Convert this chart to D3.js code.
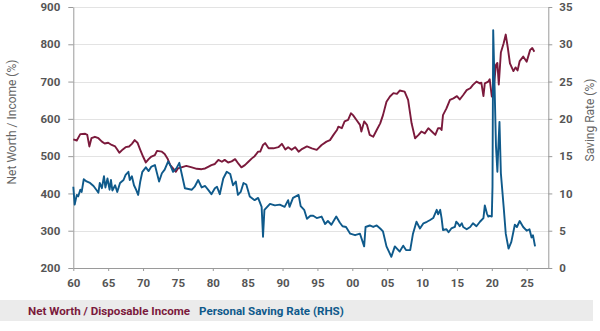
<!DOCTYPE html>
<html>
<head>
<meta charset="utf-8">
<script src="https://cdn.jsdelivr.net/npm/d3@7"></script>
<style>
  body { margin: 0; background: #fff; }
  text { font-family: Roboto, "Open Sans", sans-serif; }
  .axis path, .axis line { stroke: #9a9a9a; }
  .axis text { fill: #555; font-size: 11.5px; font-weight: 700; }
  .grid line { stroke: #e3e3e3; }
  .line { fill: none; stroke-width: 1.9; stroke-linejoin: round; }
</style>
</head>
<body>
<svg width="600" height="331"></svg>
<script>
// Net worth / disposable income (%), left axis
var nwYears = [1960.0,1960.5,1961.0,1961.7,1962.0,1962.3,1962.6,1963.1,1963.6,1964.1,1964.5,1965.0,1965.5,1966.0,1966.3,1966.6,1967.1,1967.5,1968.0,1968.4,1968.8,1969.2,1969.6,1970.0,1970.4,1970.8,1971.2,1971.7,1972.0,1972.7,1973.1,1973.5,1973.9,1974.3,1974.7,1975.0,1975.5,1976.2,1977.0,1977.7,1978.4,1978.9,1979.4,1979.8,1980.3,1980.8,1981.3,1981.7,1982.2,1982.7,1983.2,1983.7,1984.1,1984.6,1985.1,1985.6,1986.0,1986.5,1986.8,1987.2,1987.5,1988.0,1988.7,1989.4,1989.9,1990.4,1990.8,1991.3,1991.8,1992.3,1992.7,1993.5,1994.2,1994.9,1995.6,1996.3,1996.8,1997.3,1997.8,1998.0,1998.5,1998.9,1999.4,1999.8,2000.1,2000.6,2001.1,2001.3,2001.7,2002.1,2002.5,2003.0,2003.5,2004.0,2004.4,2004.9,2005.4,2005.9,2006.4,2006.8,2007.5,2008.0,2008.5,2009.0,2009.5,2009.9,2010.4,2010.9,2011.4,2011.9,2012.3,2012.6,2012.8,2013.0,2013.5,2014.0,2014.5,2015.0,2015.4,2015.9,2016.4,2016.9,2017.3,2017.8,2018.3,2018.5,2018.8,2019.0,2019.5,2019.7,2020.0,2020.3,2020.6,2020.8,2021.0,2021.3,2021.7,2022.0,2022.3,2022.6,2023.1,2023.4,2023.7,2024.0,2024.5,2025.0,2025.5,2025.8,2026.1];
var nwValues = [545,542,559,560,557,526,548,552,548,539,534,536,530,526,518,509,518,524,526,533,543,536,517,499,483,492,499,503,514,512,506,494,476,467,458,467,470,474,470,466,465,467,472,476,479,490,485,490,483,486,492,479,470,476,485,494,500,512,512,530,535,521,521,524,533,518,524,517,524,512,518,526,521,517,530,539,543,557,570,579,575,593,597,615,610,597,584,566,593,584,557,552,570,588,610,646,660,669,667,676,673,651,588,548,557,566,561,575,566,557,575,575,570,610,628,651,655,661,652,664,677,682,691,700,695,697,661,695,700,706,660,690,745,750,692,778,803,826,790,749,728,738,730,755,767,753,785,790,780];

// Personal saving rate (%), right axis
var srYears = [1960.0,1960.2,1960.5,1960.7,1961.0,1961.2,1961.5,1961.9,1962.4,1962.9,1963.3,1963.6,1963.8,1964.1,1964.4,1964.6,1964.9,1965.2,1965.4,1965.6,1966.0,1966.3,1966.7,1967.2,1967.5,1967.9,1968.1,1968.4,1968.7,1969.0,1969.3,1969.6,1969.9,1970.4,1970.8,1971.2,1971.7,1972.0,1972.3,1972.7,1973.1,1973.6,1974.0,1974.3,1974.8,1975.2,1975.5,1976.0,1976.5,1977.0,1977.4,1977.9,1978.4,1978.9,1979.4,1979.8,1980.3,1980.6,1981.0,1981.5,1982.0,1982.5,1982.9,1983.3,1983.6,1984.0,1984.4,1984.8,1985.3,1986.0,1986.5,1987.0,1987.2,1987.4,1988.2,1988.9,1989.6,1990.3,1990.8,1991.0,1991.5,1991.9,1992.3,1992.6,1993.1,1993.5,1994.0,1994.4,1994.9,1995.6,1996.1,1996.5,1997.0,1997.7,1998.2,1998.6,1999.1,1999.7,2000.4,2001.1,2001.7,2001.9,2002.5,2003.0,2003.5,2004.0,2004.4,2004.9,2005.6,2006.1,2006.8,2007.3,2007.7,2008.3,2008.7,2009.2,2009.7,2010.2,2010.7,2011.1,2011.6,2012.1,2012.3,2012.6,2012.8,2013.0,2013.5,2013.8,2014.2,2014.7,2014.9,2015.2,2015.4,2015.7,2015.9,2016.4,2016.9,2017.3,2017.8,2018.3,2018.8,2019.0,2019.3,2019.5,2019.7,2020.0,2020.1,2020.2,2020.4,2020.6,2020.8,2020.9,2021.1,2021.3,2021.7,2022.0,2022.4,2022.8,2023.3,2023.6,2024.0,2024.5,2025.0,2025.4,2025.7,2025.9,2026.2];
var srValues = [10.9,8.5,9.8,9.6,10.5,10.2,11.9,11.6,11.4,11.0,10.5,10.1,11.4,10.7,12.3,10.8,12.0,10.5,11.8,10.4,11.1,10.2,11.4,11.8,12.5,12.9,11.8,12.3,11.1,10.5,9.8,11.6,12.9,13.5,13.0,13.6,13.8,12.7,11.6,12.7,13.2,14.3,13.6,12.9,13.4,14.1,12.8,10.7,10.6,10.5,10.9,11.8,10.8,11.0,10.4,9.9,10.7,10.9,9.9,12.0,12.9,12.6,11.1,11.6,9.8,10.2,11.4,11.2,9.6,9.1,9.4,8.2,4.2,7.8,8.6,8.4,8.5,8.2,9.1,8.2,9.4,9.6,9.8,8.3,7.8,6.6,7.0,7.0,6.7,6.9,5.9,6.3,5.8,6.9,6.1,5.6,5.5,4.6,4.4,4.6,2.9,5.5,5.7,5.5,5.7,5.3,4.9,2.9,1.5,2.9,2.2,3.0,2.4,2.4,4.6,6.2,5.3,6.0,6.2,6.4,6.7,7.8,7.2,7.8,6.7,5.1,5.2,4.8,5.3,5.5,6.2,5.9,5.6,6.0,5.5,5.2,5.5,6.0,5.6,6.2,6.7,8.4,7.3,6.9,7.0,6.9,10.9,31.9,24.3,16.3,12.9,15.4,19.6,12.7,8.2,4.6,2.6,3.5,5.8,5.5,6.3,5.5,5.0,5.2,4.1,4.4,2.9];

var xTicks = d3.range(1960, 2026, 5);
var leftTicks = [200, 300, 400, 500, 600, 700, 800, 900];
var rightTicks = [0, 5, 10, 15, 20, 25, 30, 35];

var nwData = nwYears.map(function(d, i) { return [d, nwValues[i]]; });
var srData = srYears.map(function(d, i) { return [d, srValues[i]]; });

var svg = d3.select("svg");

var x = d3.scaleLinear().domain([1960, 2028.1]).range([73.3, 548.3]);
var yL = d3.scaleLinear().domain([200, 900]).range([268, 7]);
var yR = d3.scaleLinear().domain([0, 35]).range([268, 7]);

// grid
svg.append("g")
    .attr("class", "grid")
  .selectAll("line")
  .data(leftTicks.slice(1))
  .enter().append("line")
    .attr("x1", x.range()[0])
    .attr("x2", x.range()[1])
    .attr("y1", function(d) { return Math.round(yL(d)) + 0.5; })
    .attr("y2", function(d) { return Math.round(yL(d)) + 0.5; });

svg.append("g")
    .attr("class", "axis")
    .attr("transform", "translate(" + x.range()[0] + ",0)")
    .call(d3.axisLeft(yL).tickValues(leftTicks).tickSize(5).tickPadding(8).tickSizeOuter(0));

svg.append("g")
    .attr("class", "axis")
    .attr("transform", "translate(" + x.range()[1] + ",0)")
    .call(d3.axisRight(yR).tickValues(rightTicks).tickSize(4).tickPadding(7).tickSizeOuter(0));

svg.append("g")
    .attr("class", "axis")
    .attr("transform", "translate(0," + yL.range()[0] + ")")
    .call(d3.axisBottom(x).tickValues(xTicks).tickSize(3).tickPadding(8).tickSizeOuter(0)
      .tickFormat(function(d) { return d3.format("02d")(d % 100); }));

var lineL = d3.line()
    .x(function(d) { return x(d[0]); })
    .y(function(d) { return yL(d[1]); });
var lineR = d3.line()
    .x(function(d) { return x(d[0]); })
    .y(function(d) { return yR(d[1]); });

svg.append("path")
    .datum(nwData)
    .attr("class", "line")
    .attr("d", lineL)
    .style("stroke", "#7b1a3c");

svg.append("path")
    .datum(srData)
    .attr("class", "line")
    .attr("d", lineR)
    .style("stroke", "#0f5a8b");

// axis titles
svg.append("text")
    .attr("transform", "translate(16,122) rotate(-90)")
    .attr("text-anchor", "middle")
    .style("font-size", "12px")
    .style("fill", "#666")
    .text("Net Worth / Income (%)");

svg.append("text")
    .attr("transform", "translate(594,120) rotate(-90)")
    .attr("text-anchor", "middle")
    .style("font-size", "12px")
    .style("fill", "#666")
    .text("Saving Rate (%)");

// legend
svg.append("rect")
    .attr("x", 0)
    .attr("y", 300)
    .attr("width", 593)
    .attr("height", 21)
    .attr("fill", "#ebebeb");

svg.append("text")
    .attr("x", 28)
    .attr("y", 314.5)
    .style("font-size", "11.6px")
    .style("font-weight", 700)
    .style("fill", "#7b1a3c")
    .text("Net Worth / Disposable Income");

svg.append("text")
    .attr("x", 199)
    .attr("y", 314.5)
    .style("font-size", "11.6px")
    .style("font-weight", 700)
    .style("fill", "#0f5a8b")
    .text("Personal Saving Rate (RHS)");
</script>
</body>
</html>
